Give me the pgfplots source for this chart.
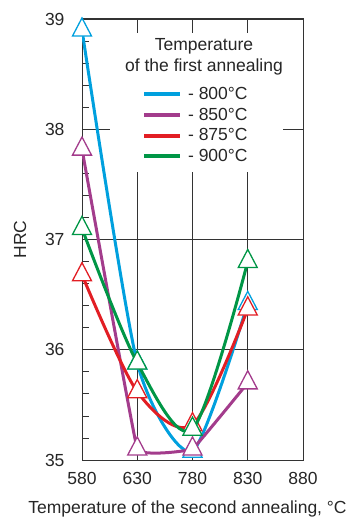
\documentclass[border=0pt]{standalone}
\usepackage{fontspec}
\setmainfont{Liberation Sans}
\usepackage{pgfplots}
\pgfplotsset{compat=1.18}
\definecolor{cblue}{RGB}{0,160,222}
\definecolor{cpurple}{RGB}{163,60,140}
\definecolor{cred}{RGB}{226,30,36}
\definecolor{cgreen}{RGB}{0,150,70}
\newcommand{\myfont}{\fontsize{17.5bp}{21bp}\selectfont}
\begin{document}
\begin{tikzpicture}
\useasboundingbox (-82bp,-57bp) rectangle (271bp,460bp);
\begin{axis}[
  scale only axis, width=221bp, height=441bp,
  xmin=0, xmax=4, ymin=35, ymax=39,
  xtick={0,1,2,3,4}, xticklabels={580,630,780,830,880},
  ytick={35,36,37,38,39}, minor y tick num=4,
  grid=major, major grid style={black!80, line width=0.8bp},
  axis line style={black!80, line width=1bp},
  tick align=inside, xtick pos=lower, ytick pos=left,
  minor tick length=7bp, major tick length=0bp,
  minor tick style={black!80, line width=0.8bp},
  /pgf/number format/assume math mode=true,
  tick label style={font=\myfont, text=black!85},
  yticklabel style={xshift=-14bp},
  xticklabel style={yshift=-9bp},
  xlabel={Temperature of the second annealing, °C},
  ylabel={HRC},
  every axis x label/.style={at={(rel axis cs:0.5,0)}, anchor=base, yshift=-53bp, xshift=-5bp, font=\myfont, text=black!85},
  every axis y label/.style={at={(rel axis cs:0,0.5)}, xshift=-62bp, rotate=90, anchor=center, font=\myfont, text=black!85},
  clip mode=individual,
  tri/.style={line width=3bp, smooth, mark=triangle*, mark size=11bp, mark options={fill=white, line width=1.3bp, solid, yscale=1.1}},
  legend image code/.code={\draw[#1, line width=4bp] (0bp,0bp) -- (36bp,0bp);},
  legend style={at={(rel axis cs:0.271,0.85)}, anchor=north west, draw=none, fill=none, font=\myfont, text=black!85, row sep=3bp, inner sep=0bp},
  legend cell align=left,
]
\fill[white] (rel axis cs:0.127,0.653) rectangle (rel axis cs:0.910,0.968);
\node[align=center, font=\myfont, text=black!85] at (rel axis cs:0.552,0.915) {Temperature\\of the first annealing};
\addplot[tri, cblue, tension=0.4] coordinates {(0,38.9) (1,35.88) (2,35.08) (3,36.42)};
\addlegendentry{\hspace{4bp}- 800°C}
\addplot[tri, cpurple, tension=0.1] coordinates {(0,37.82) (1,35.1) (2,35.1) (3,35.7)};
\addlegendentry{\hspace{4bp}- 850°C}
\addplot[tri, cred] coordinates {(0,36.68) (1,35.62) (2,35.32) (3,36.37)};
\addlegendentry{\hspace{4bp}- 875°C}
\addplot[tri, cgreen] coordinates {(0,37.1) (1,35.88) (2,35.28) (3,36.8)};
\addlegendentry{\hspace{4bp}- 900°C}
\end{axis}
\end{tikzpicture}
\end{document}
